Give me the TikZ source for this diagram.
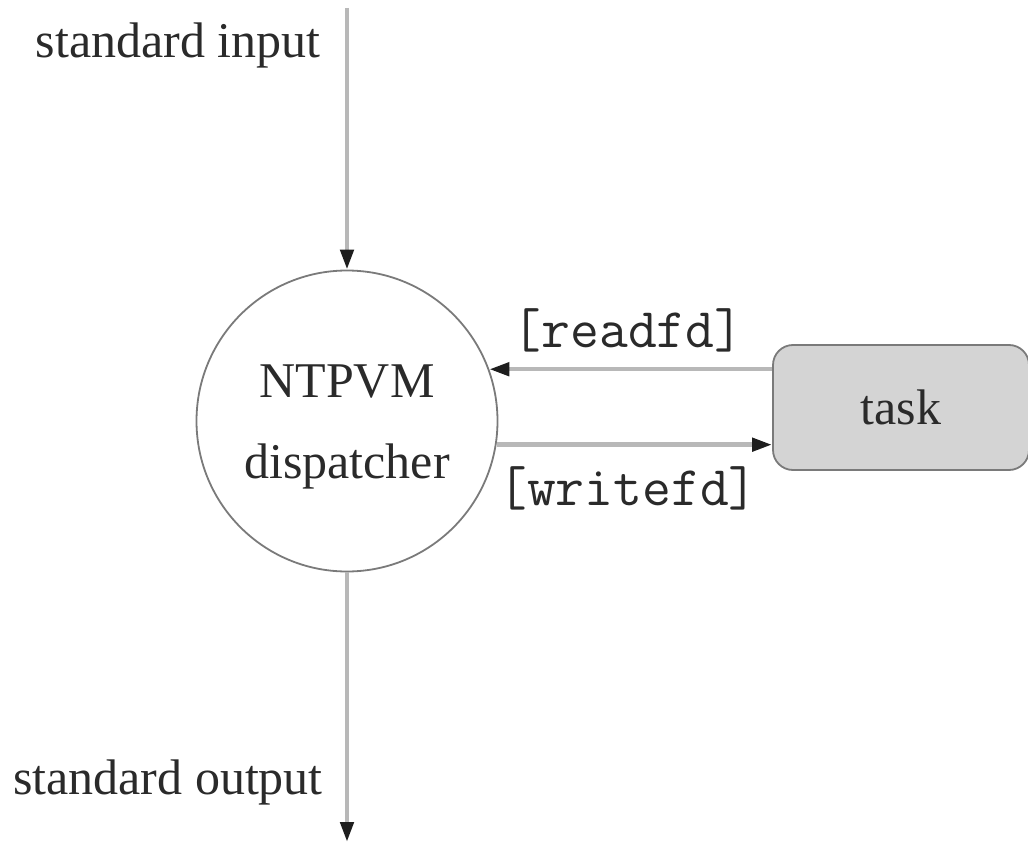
\documentclass[tikz,border=0pt]{standalone}
\usepackage{fontspec}
\setmainfont{Liberation Serif}
\usetikzlibrary{arrows.meta}
\definecolor{linegray}{HTML}{B8B8B8}
\definecolor{tipgray}{HTML}{1E1E1E}
\definecolor{boxfill}{HTML}{D4D4D4}
\definecolor{boxline}{HTML}{7A7A7A}
\definecolor{txt}{HTML}{2A2A2A}
\tikzset{
  flow/.style={draw=linegray, line width=4.5pt,
    -{Triangle[length=20pt,width=13pt,color=tipgray]}},
  lbl/.style={font=\fontsize{50}{60}\selectfont, text=txt, inner sep=0pt},
  mono/.style={font=\fontsize{56}{60}\selectfont\ttfamily, text=txt, inner sep=0pt},
}
\begin{document}
\begin{tikzpicture}[x=1pt,y=-1pt]
\useasboundingbox (0,0) rectangle (1028,845);
\node[circle, draw=boxline, line width=1.8pt, minimum size=301pt, inner sep=0pt] (disp) at (347,421) {};
\node[lbl] (ntpvm) at (347,382) {NTPVM};
\node[lbl] (dispt) at (347,466) {dispatcher};
\node[draw=boxline, fill=boxfill, line width=1.8pt, rounded corners=20pt,
      minimum width=256pt, minimum height=125pt, inner sep=0pt, lbl] (task) at (901,407.5) {task};
\coordinate (in) at (347,8);
\coordinate (out) at (347,842);
\draw[flow] (in) -- (disp.north);
\draw[flow] (disp.south) -- (out);
\draw[flow] (task.west |- disp.20) -- (disp.20);
\draw[flow] (disp.-9) -- (disp.-9 -| task.west);
\node[lbl] (sin) at (178,45) {standard input};
\node[lbl] (sout) at (168,782) {standard output};
\node[mono] (rfd) at (628,330) {[readfd]};
\node[mono] (wfd) at (628,488) {[writefd]};
\end{tikzpicture}
\end{document}
